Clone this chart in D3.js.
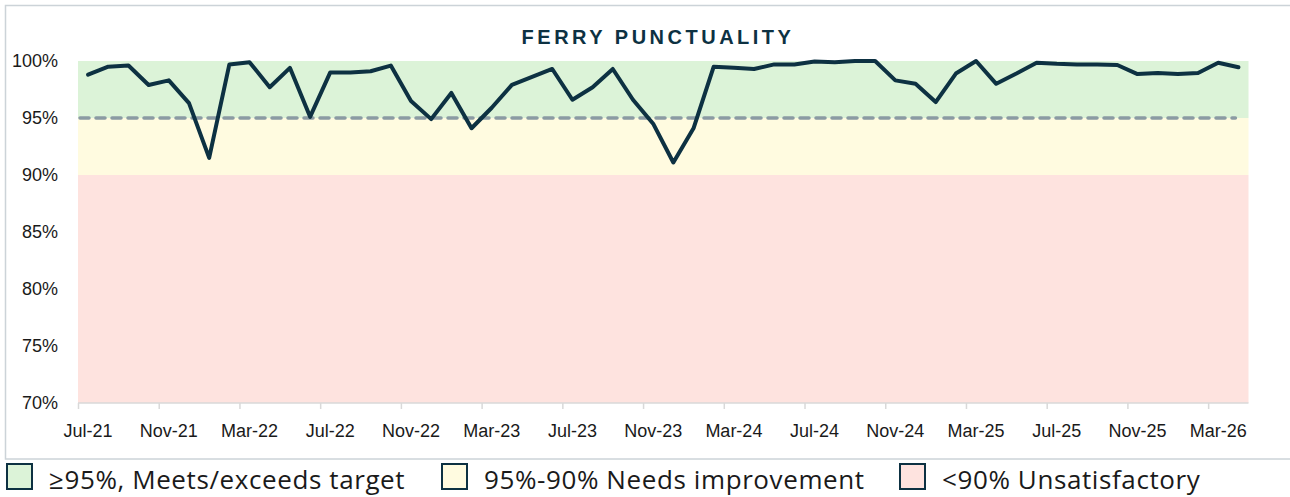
<!DOCTYPE html>
<html>
<head>
<meta charset="utf-8">
<script src="https://cdn.jsdelivr.net/npm/d3@7"></script>
<style>
  html, body { margin: 0; padding: 0; background: #fff; }
  svg { display: block; }
</style>
</head>
<body>
<svg id="chart"></svg>
<script>
// Months, Jul-21 .. Apr-26.
const months = [
  '2021-07', '2021-08', '2021-09', '2021-10', '2021-11', '2021-12',
  '2022-01', '2022-02', '2022-03', '2022-04', '2022-05', '2022-06',
  '2022-07', '2022-08', '2022-09', '2022-10', '2022-11', '2022-12',
  '2023-01', '2023-02', '2023-03', '2023-04', '2023-05', '2023-06',
  '2023-07', '2023-08', '2023-09', '2023-10', '2023-11', '2023-12',
  '2024-01', '2024-02', '2024-03', '2024-04', '2024-05', '2024-06',
  '2024-07', '2024-08', '2024-09', '2024-10', '2024-11', '2024-12',
  '2025-01', '2025-02', '2025-03', '2025-04', '2025-05', '2025-06',
  '2025-07', '2025-08', '2025-09', '2025-10', '2025-11', '2025-12',
  '2026-01', '2026-02', '2026-03', '2026-04'
];

// Punctuality, % of sailings on time.
const punctuality = [
  98.8, 99.5, 99.6, 97.9, 98.3, 96.3,
  91.5, 99.7, 99.9, 97.7, 99.4, 95.1,
  99.0, 99.0, 99.1, 99.6, 96.5, 94.9,
  97.2, 94.1, 95.9, 97.9, 98.6, 99.3,
  96.6, 97.7, 99.3, 96.6, 94.5, 91.1,
  94.1, 99.5, 99.4, 99.3, 99.7, 99.7,
  99.95, 99.9, 100, 100, 98.3, 98.0,
  96.4, 98.9, 100, 98.0, 98.9, 99.85,
  99.75, 99.7, 99.7, 99.65, 98.85, 98.95,
  98.85, 98.95, 99.85, 99.45
];

const target = 95;
const yTicks = [70, 75, 80, 85, 90, 95, 100];

// Rating bands: [from, to, colour, legend label].
const bandFrom = [95, 90, 70];
const bandTo = [100, 95, 90];
const bandColours = ['#dcf3d8', '#fffbe0', '#fee3df'];
const bandLabels = ['\u226595%, Meets/exceeds target', '95%-90% Needs improvement', '<90% Unsatisfactory'];

// Set up.
const width = 1290;
const height = 497;
const navy = '#0d3142';

const svg = d3.select('#chart')
  .attr('width', width)
  .attr('height', height);

// Chart border.
svg.append('rect')
  .attr('x', 5.5)
  .attr('y', 5.5)
  .attr('width', 1300)
  .attr('height', 453.5)
  .attr('fill', 'none')
  .attr('stroke', '#ccd3d8')
  .attr('stroke-width', 1.5);

// Scales.
const x = d3.scaleBand()
  .domain(months)
  .range([78, 1248.5])
  .padding(0);

const y = d3.scaleLinear()
  .domain([70, 100])
  .range([403, 61]);

const cx = m => x(m) + x.bandwidth() / 2;

// Background bands.
svg.append('g')
  .selectAll('rect')
  .data(bandColours)
  .join('rect')
  .attr('x', x.range()[0])
  .attr('width', x.range()[1] - x.range()[0])
  .attr('y', (d, i) => y(bandTo[i]))
  .attr('height', (d, i) => y(bandFrom[i]) - y(bandTo[i]))
  .attr('fill', d => d);

// Target line.
svg.append('line')
  .attr('x1', x.range()[0] + 2)
  .attr('x2', cx(months[months.length - 1]) - 3)
  .attr('y1', y(target))
  .attr('y2', y(target))
  .attr('stroke', '#8a9ba3')
  .attr('stroke-width', 3.5)
  .attr('stroke-dasharray', '9 7')
  .attr('stroke-linecap', 'round');

// Y axis.
const yAxis = svg.append('g')
  .attr('transform', `translate(${x.range()[0]},0)`)
  .call(d3.axisLeft(y).tickValues(yTicks).tickSize(0).tickPadding(20).tickFormat(d => d + '%'));
yAxis.select('.domain').remove();
yAxis.selectAll('text')
  .attr('font-family', '"Liberation Sans", Arial, sans-serif')
  .attr('font-size', 18)
  .attr('fill', '#1a1a1a');

// X axis: labels centred on months, ticks on band edges.
const labelMonths = months.filter((m, i) => i % 4 === 0);
const fmt = d3.timeFormat('%b-%y');
const parse = d3.timeParse('%Y-%m');

const xAxis = svg.append('g')
  .attr('transform', `translate(0,${y(70)})`);
xAxis.append('line')
  .attr('x1', x.range()[0])
  .attr('x2', x.range()[1])
  .attr('stroke', '#d9d9d9')
  .attr('stroke-width', 1.5);
xAxis.selectAll('.tick-mark')
  .data(labelMonths)
  .join('line')
  .attr('class', 'tick-mark')
  .attr('x1', d => x(d) + 0.5)
  .attr('x2', d => x(d) + 0.5)
  .attr('y1', 0)
  .attr('y2', 6)
  .attr('stroke', '#d9d9d9')
  .attr('stroke-width', 1.5);
xAxis.selectAll('.tick-label')
  .data(labelMonths)
  .join('text')
  .attr('class', 'tick-label')
  .attr('x', d => cx(d))
  .attr('y', 33.5)
  .attr('text-anchor', 'middle')
  .attr('font-family', '"Liberation Sans", Arial, sans-serif')
  .attr('font-size', 18)
  .attr('fill', '#1a1a1a')
  .text(d => fmt(parse(d)));

// Line.
const line = d3.line()
  .x((d, i) => cx(months[i]))
  .y(d => y(d));

svg.append('path')
  .datum(punctuality)
  .attr('d', line)
  .attr('fill', 'none')
  .attr('stroke', navy)
  .attr('stroke-width', 4)
  .attr('stroke-linejoin', 'round')
  .attr('stroke-linecap', 'round');

// Title.
svg.append('text')
  .attr('x', 658)
  .attr('y', 44)
  .attr('text-anchor', 'middle')
  .attr('font-family', '"Liberation Sans", Arial, sans-serif')
  .attr('font-weight', 'bold')
  .attr('font-size', 20)
  .attr('letter-spacing', 3.5)
  .attr('fill', navy)
  .text('FERRY PUNCTUALITY');

// Legend.
const legendX = [6, 441, 899];
const legend = svg.append('g')
  .selectAll('g')
  .data(bandLabels)
  .join('g')
  .attr('transform', (d, i) => `translate(${legendX[i]},463)`);
legend.append('rect')
  .attr('x', 1)
  .attr('y', 1)
  .attr('width', 25)
  .attr('height', 25)
  .attr('fill', (d, i) => bandColours[i])
  .attr('stroke', navy)
  .attr('stroke-width', 2);
legend.append('text')
  .attr('x', 43)
  .attr('y', 25.5)
  .attr('font-family', '"Open Sans", sans-serif')
  .attr('font-size', 26)
  .attr('letter-spacing', 0.6)
  .attr('fill', '#1a1a1a')
  .text(d => d);
</script>
</body>
</html>
